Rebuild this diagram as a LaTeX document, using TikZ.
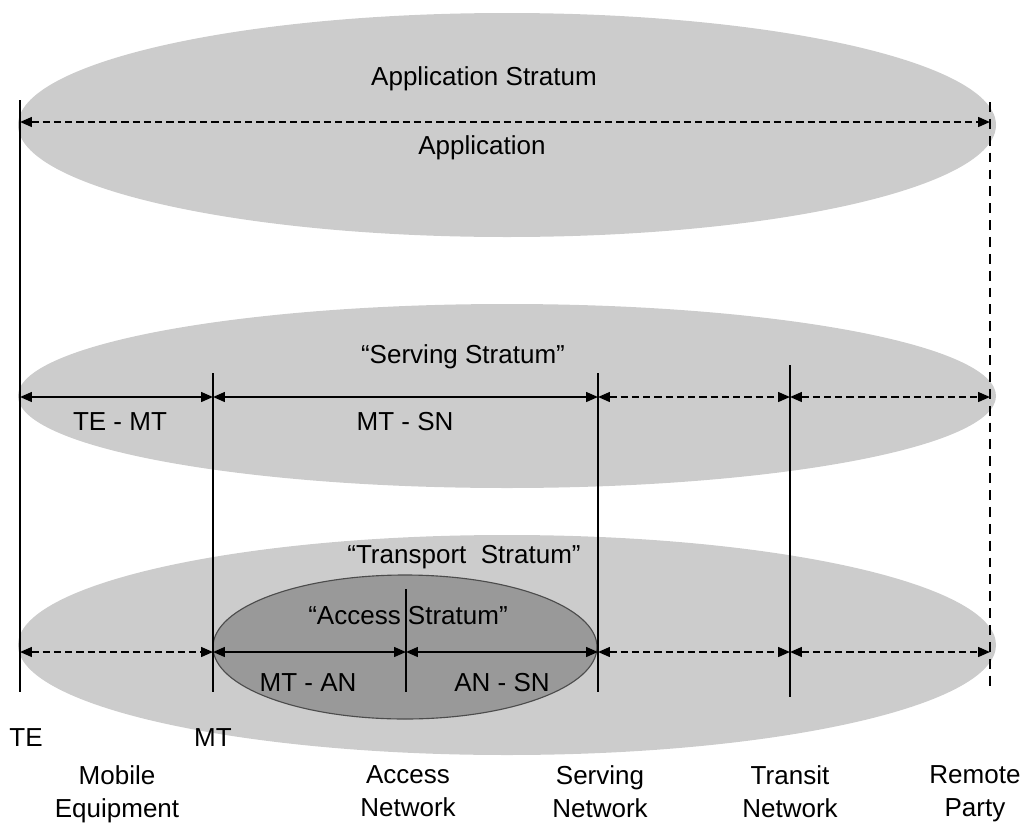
\documentclass[tikz,border=0pt]{standalone}
\usepackage{fontspec}
\setmainfont{Liberation Sans}
\usetikzlibrary{arrows.meta}
\usetikzlibrary{calc}
\definecolor{stratgray}{HTML}{CCCCCC}
\definecolor{accessgray}{HTML}{999999}

\begin{document}
\begin{tikzpicture}[x=0.025cm, y=-0.025cm,
  font=\fontsize{18.5}{23.4}\selectfont,
  border/.style={line width=1.3pt},
  span/.style={line width=1.3pt, {Triangle[length=8.5pt,width=7pt]}-{Triangle[length=8.5pt,width=7pt]}},
  dashspan/.style={span, dash pattern=on 5pt off 3pt},
  lbl/.style={inner sep=1pt, align=center},
  place/.style={lbl, anchor=north}]
\useasboundingbox (0,0) rectangle (1022,823);

% strata
\fill[stratgray] (507,125) ellipse [x radius=489, y radius=112];
\fill[stratgray] (507,396) ellipse [x radius=489, y radius=92];
\fill[stratgray] (507,645) ellipse [x radius=489, y radius=110];
\filldraw[fill=accessgray, draw=black!70, line width=0.8pt] (405,647) ellipse [x radius=192, y radius=72];

% reference points
\foreach \name/\x/\top/\bot in {te/20/100/692, mt/213/373/692, an/406/589/692, sn/598/373/692, tr/790/365/697} {
  \coordinate (\name top) at (\x,\top);
  \coordinate (\name) at (\x,\bot);
  \draw[border] (\name top) -- (\name);
}
\coordinate (rp top) at (990,102);
\coordinate (rp) at (990,692);
\draw[border, dash pattern=on 7pt off 5pt] (rp top) -- (rp);

\coordinate (app row) at (0,122);
\coordinate (serv row) at (0,397);
\coordinate (trans row) at (0,652);

% application
\draw[dashspan] (te |- app row) -- (rp |- app row);
\node[lbl] (app title) at (484,79) {Application Stratum};
\node[lbl] (app) at (482,148) {Application};

% serving
\foreach \a/\b/\kind in {te/mt/span, mt/sn/span, sn/tr/dashspan, tr/rp/dashspan}
  \draw[\kind] (\a |- serv row) -- (\b |- serv row);
\node[lbl] (serv title) at (463,357) {“Serving Stratum”};
\node[lbl] (te mt) at (120,422) {TE - MT};
\node[lbl] (mt sn) at (405,422) {MT - SN};

% transport
\foreach \a/\b/\kind in {te/mt/dashspan, mt/an/span, an/sn/span, sn/tr/dashspan, tr/rp/dashspan}
  \draw[\kind] (\a |- trans row) -- (\b |- trans row);
\node[lbl] (trans title) at (464,557) {“Transport~ Stratum”};
\node[lbl] (acc title) at (408,616) {“Access Stratum”};
\node[lbl] (mt an) at (308,683) {MT - AN};
\node[lbl] (an sn) at (502,683) {AN - SN};

% end points
\node[lbl] (te lbl) at (26,738) {TE};
\node[lbl] (mt lbl) at (213,738) {MT};
\node[place] (me) at (117,764) {Mobile\\Equipment};
\node[place] (acn) at (408,764) {Access\\Network};
\node[place] (svn) at (600,764) {Serving\\Network};
\node[place] (trn) at (790,764) {Transit\\Network};
\node[place] (rmp) at (975,764) {Remote\\Party};
\end{tikzpicture}
\end{document}
